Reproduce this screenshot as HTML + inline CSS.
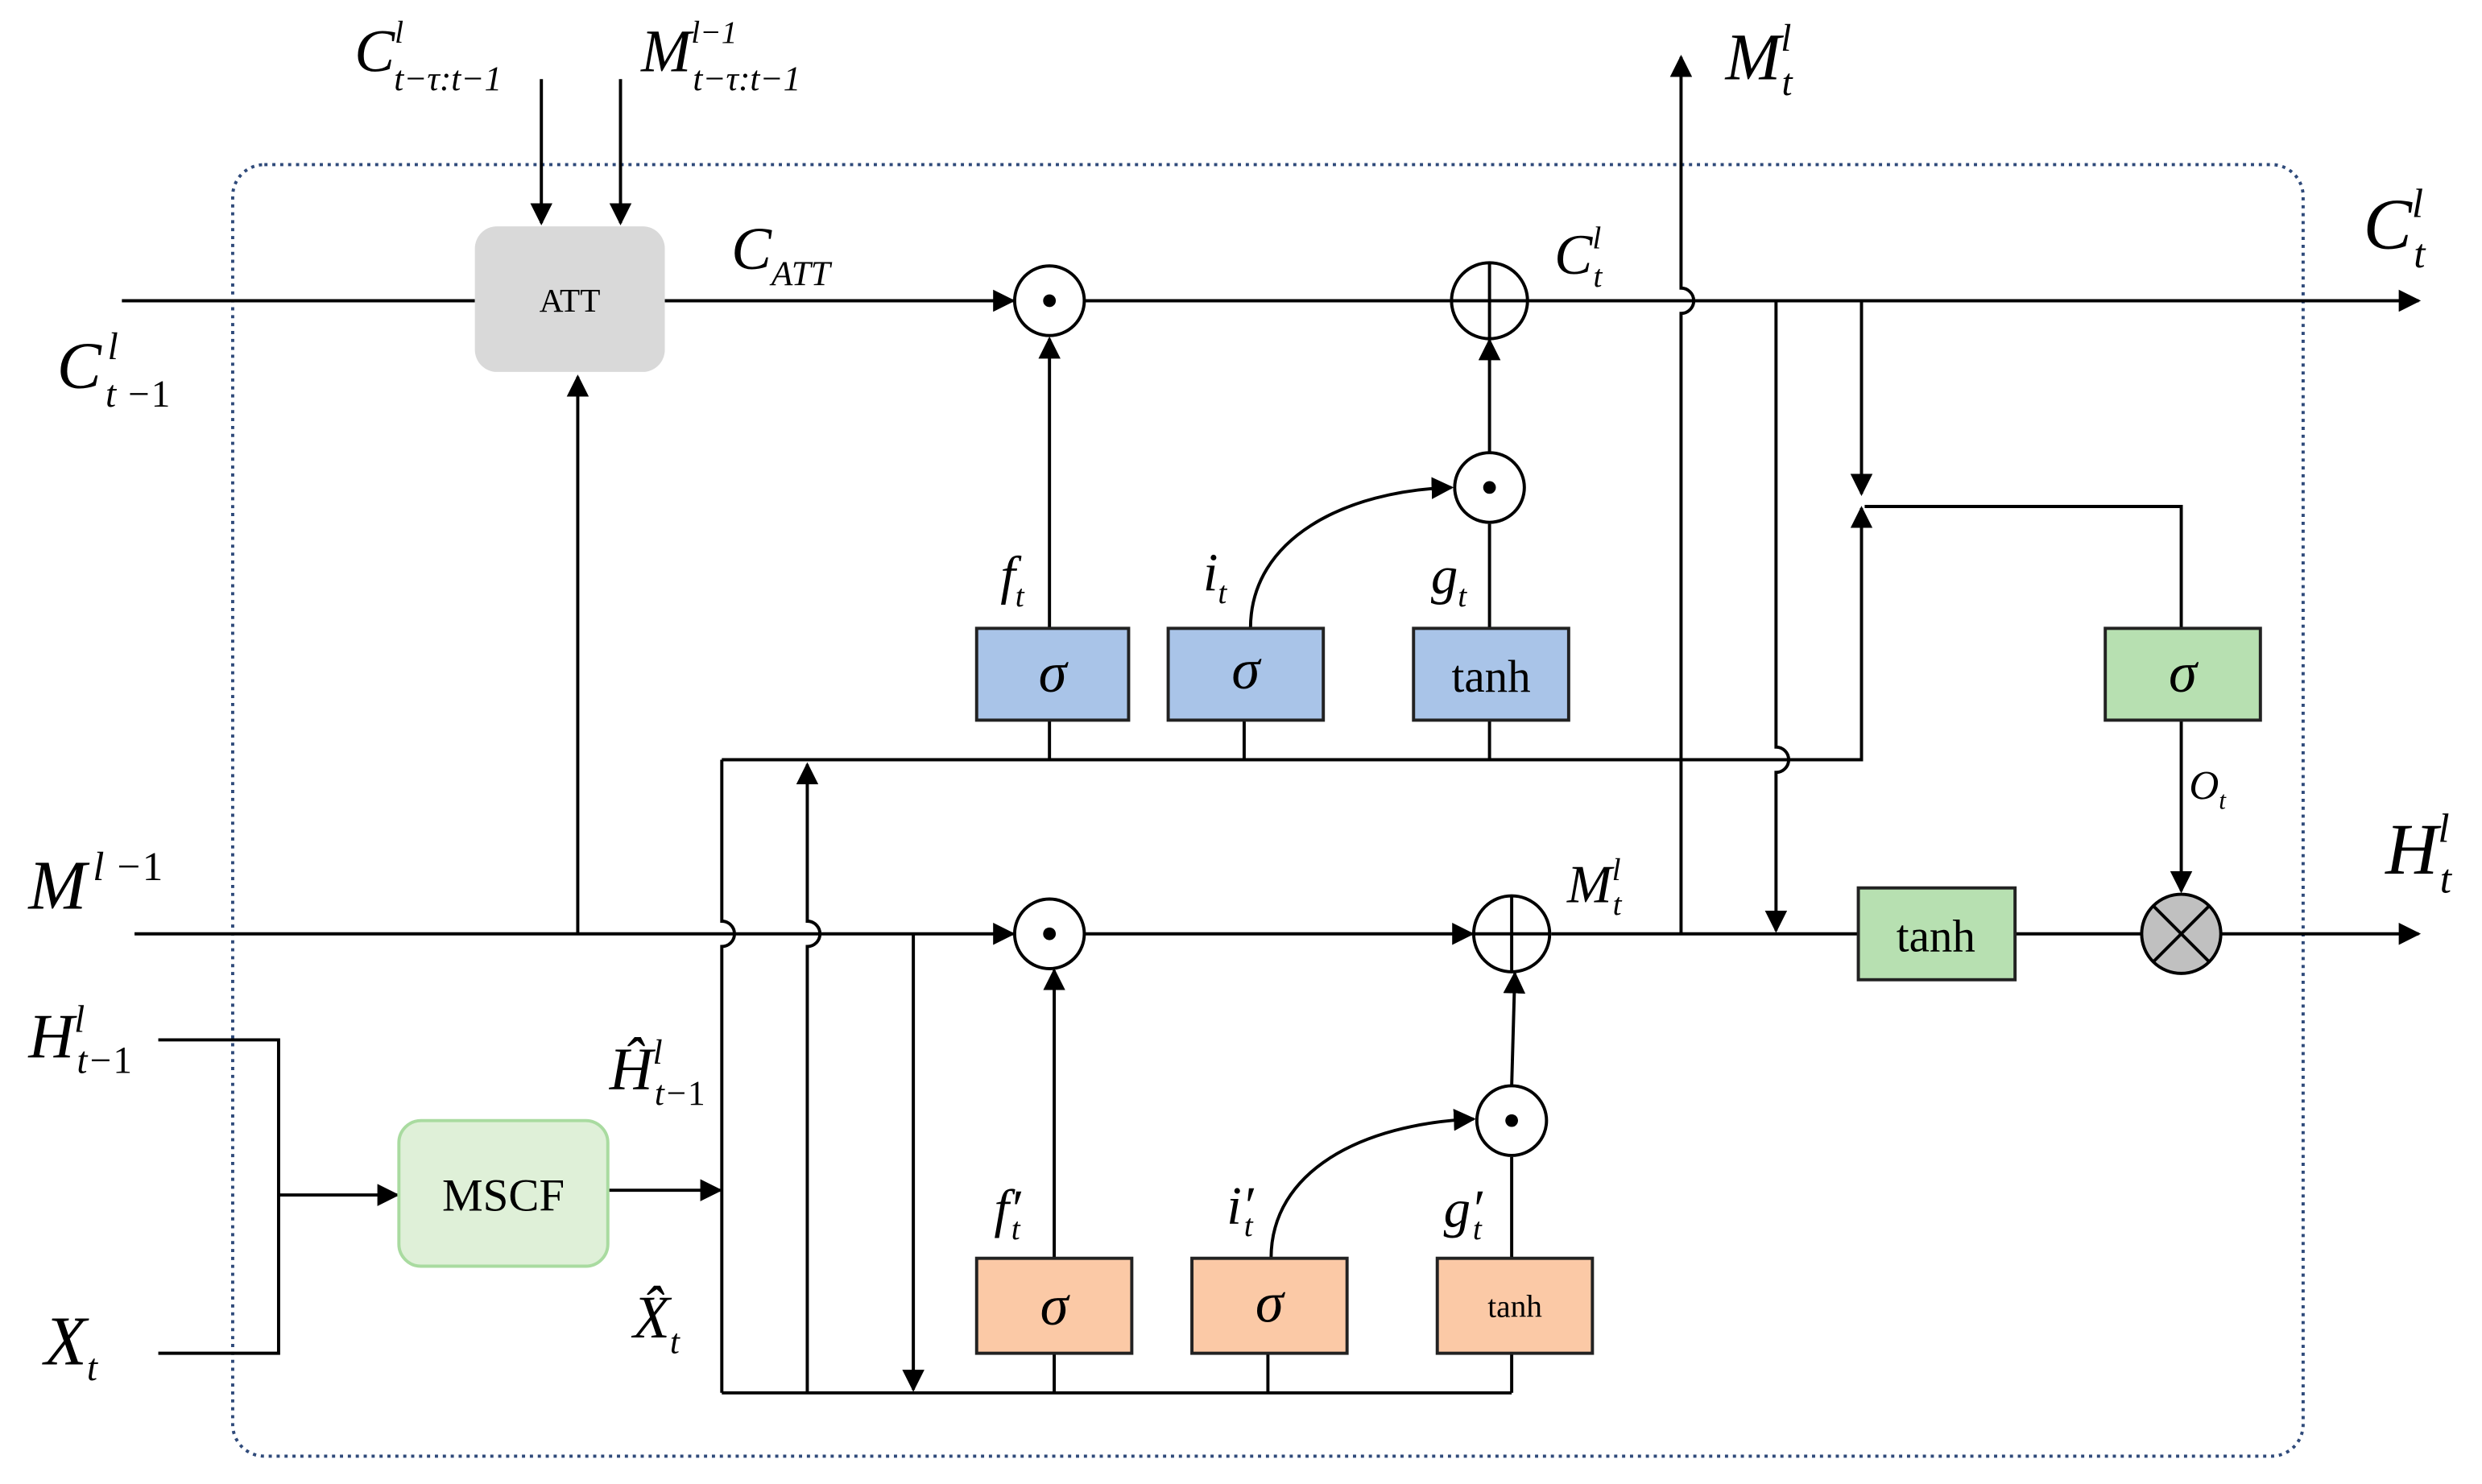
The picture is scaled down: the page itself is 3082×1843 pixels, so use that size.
<!DOCTYPE html>
<html><head><meta charset="utf-8"><style>
html,body{margin:0;padding:0;background:#fff}
svg{display:block}
text{font-family:"Liberation Serif",serif;fill:#000}
.i{font-style:italic}
</style></head><body>
<svg width="3082" height="1843" viewBox="0 0 1568 937.6" preserveAspectRatio="none" xmlns="http://www.w3.org/2000/svg">
<defs>
<marker id="b" viewBox="0 0 10 10" refX="9" refY="5" markerWidth="14" markerHeight="14" orient="auto" markerUnits="userSpaceOnUse"><path d="M0,0 L10,5 L0,10 z" fill="#000"/></marker>
</defs>
<rect x="147" y="104" width="1308" height="816" rx="20" fill="none" stroke="#2f4a7a" stroke-width="2" stroke-dasharray="2,3"/>
<g stroke="#000" stroke-width="2" fill="none">
<line x1="77" y1="190" x2="300" y2="190"/>
<line x1="420" y1="190" x2="640" y2="190" marker-end="url(#b)"/>
<line x1="685" y1="190" x2="917" y2="190"/>
<line x1="965" y1="190" x2="1528" y2="190" marker-end="url(#b)"/>
<line x1="342" y1="50" x2="342" y2="141" marker-end="url(#b)"/>
<line x1="392" y1="50" x2="392" y2="141" marker-end="url(#b)"/>
<line x1="365" y1="590" x2="365" y2="238" marker-end="url(#b)"/>
<path d="M1062,590 V198 A8,8 0 0 0 1062,182 V36" marker-end="url(#b)"/>
<line x1="663" y1="397" x2="663" y2="214" marker-end="url(#b)"/>
<path d="M790,397 C790,340 850,310 917,308" marker-end="url(#b)"/>
<line x1="941" y1="397" x2="941" y2="331"/>
<line x1="941" y1="286" x2="941" y2="215" marker-end="url(#b)"/>
<path d="M456,480 H1176 V321" marker-end="url(#b)"/>
<line x1="663" y1="455" x2="663" y2="480"/>
<line x1="786" y1="455" x2="786" y2="480"/>
<line x1="941" y1="455" x2="941" y2="480"/>
<path d="M1122,190 V472 A8,8 0 0 1 1122,488 V588" marker-end="url(#b)"/>
<line x1="1176" y1="190" x2="1176" y2="312" marker-end="url(#b)"/>
<path d="M1378,397 V320 H1178"/>
<line x1="1378" y1="455" x2="1378" y2="563" marker-end="url(#b)"/>
<line x1="85" y1="590" x2="640" y2="590" marker-end="url(#b)"/>
<line x1="685" y1="590" x2="930" y2="590" marker-end="url(#b)"/>
<line x1="980" y1="590" x2="1174" y2="590"/>
<line x1="1273" y1="590" x2="1353" y2="590"/>
<line x1="1403" y1="590" x2="1528" y2="590" marker-end="url(#b)"/>
<path d="M456,480 V582 A8,8 0 0 1 456,598 V880"/>
<path d="M510,880 V598 A8,8 0 0 0 510,582 V483" marker-end="url(#b)"/>
<line x1="577" y1="590" x2="577" y2="878" marker-end="url(#b)"/>
<line x1="456" y1="880" x2="955" y2="880"/>
<line x1="666" y1="855" x2="666" y2="880"/>
<line x1="801" y1="855" x2="801" y2="880"/>
<line x1="955" y1="855" x2="955" y2="880"/>
<line x1="666" y1="795" x2="666" y2="613" marker-end="url(#b)"/>
<path d="M803,795 C803,740 860,710 931,707" marker-end="url(#b)"/>
<line x1="955" y1="795" x2="955" y2="731"/>
<line x1="955" y1="686" x2="957" y2="615" marker-end="url(#b)"/>
<path d="M100,657 H176 V855 H100"/>
<line x1="176" y1="755" x2="251" y2="755" marker-end="url(#b)"/>
<line x1="384" y1="752" x2="455" y2="752" marker-end="url(#b)"/>
</g>
<rect x="300" y="143" width="120" height="92" rx="14" fill="#d9d9d9"/>
<text x="360" y="197" font-size="21" text-anchor="middle">ATT</text>
<rect x="252" y="708" width="132" height="92" rx="14" fill="#dff0d8" stroke="#a9dba0" stroke-width="2"/>
<text x="318" y="765" font-size="29" text-anchor="middle">MSCF</text>
<g stroke="#222" stroke-width="2">
<rect x="617" y="397" width="96" height="58" fill="#a9c4e8"/>
<rect x="738" y="397" width="98" height="58" fill="#a9c4e8"/>
<rect x="893" y="397" width="98" height="58" fill="#a9c4e8"/>
<rect x="1330" y="397" width="98" height="58" fill="#b7e0b1"/>
<rect x="1174" y="561" width="99" height="58" fill="#b7e0b1"/>
<rect x="617" y="795" width="98" height="60" fill="#fbc9a6"/>
<rect x="753" y="795" width="98" height="60" fill="#fbc9a6"/>
<rect x="908" y="795" width="98" height="60" fill="#fbc9a6"/>
</g>
<g font-size="36" text-anchor="middle" class="i">
<text x="665" y="437">σ</text><text x="787" y="435">σ</text>
<text x="1379" y="437">σ</text><text x="666" y="837">σ</text><text x="802" y="835">σ</text>
</g>
<text x="942" y="437" font-size="29" text-anchor="middle">tanh</text>
<text x="1223" y="601" font-size="29" text-anchor="middle">tanh</text>
<text x="957" y="832" font-size="20" text-anchor="middle">tanh</text>
<g stroke="#000" stroke-width="2" fill="#fff">
<circle cx="663" cy="190" r="22"/><circle cx="941" cy="190" r="24"/>
<circle cx="941" cy="308" r="22"/><circle cx="663" cy="590" r="22"/>
<circle cx="955" cy="590" r="24"/><circle cx="955" cy="708" r="22"/>
<circle cx="1378" cy="590" r="25" fill="#c0c0c0"/>
</g>
<g fill="#000"><circle cx="663" cy="190" r="4"/><circle cx="941" cy="308" r="4"/><circle cx="663" cy="590" r="4"/><circle cx="955" cy="708" r="4"/></g>
<g stroke="#000" stroke-width="2">
<line x1="917" y1="190" x2="965" y2="190"/><line x1="941" y1="166" x2="941" y2="214"/>
<line x1="931" y1="590" x2="979" y2="590"/><line x1="955" y1="566" x2="955" y2="614"/>
<line x1="1360" y1="572" x2="1396" y2="608"/><line x1="1396" y1="572" x2="1360" y2="608"/>
</g>
<g class="i">
<text x="224" y="45" font-size="38">C<tspan font-size="20" dy="-18">l</tspan><tspan font-size="22" dx="-6" dy="30">t−τ:t−1</tspan></text>
<text x="405" y="45" font-size="38">M<tspan font-size="20" dy="-18">l−1</tspan><tspan font-size="22" dx="-28" dy="30">t−τ:t−1</tspan></text>
<text x="462" y="170" font-size="38">C<tspan font-size="22" dy="10">ATT</tspan></text>
<text x="36" y="245" font-size="42">C<tspan font-size="24" dx="4" dy="-18">l</tspan><tspan font-size="24" dx="-8" dy="30">t −<tspan font-style="normal">1</tspan></tspan></text>
<text x="1090" y="50" font-size="42">M<tspan font-size="24" dy="-18">l</tspan><tspan font-size="24" dx="-6" dy="28">t</tspan></text>
<text x="1493" y="157" font-size="46">C<tspan font-size="26" dy="-20">l</tspan><tspan font-size="26" dx="-6" dy="32">t</tspan></text>
<text x="982" y="173" font-size="36">C<tspan font-size="20" dy="-16">l</tspan><tspan font-size="20" dx="-5" dy="24">t</tspan></text>
<text x="632" y="375" font-size="34">f<tspan font-size="20" dy="8">t</tspan></text>
<text x="760" y="373" font-size="34">i<tspan font-size="20" dy="8">t</tspan></text>
<text x="904" y="375" font-size="34">g<tspan font-size="20" dy="8">t</tspan></text>
<text x="1383" y="505" font-size="26">O<tspan font-size="16" dy="6">t</tspan></text>
<text x="1507" y="552" font-size="46">H<tspan font-size="26" dy="-20">l</tspan><tspan font-size="26" dx="-6" dy="32">t</tspan></text>
<text x="18" y="574" font-size="44">M<tspan font-size="26" dx="4" dy="-18">l −<tspan font-style="normal">1</tspan></tspan></text>
<text x="990" y="570" font-size="34">M<tspan font-size="20" dy="-14">l</tspan><tspan font-size="20" dx="-5" dy="22">t</tspan></text>
<text x="18" y="668" font-size="40">H<tspan font-size="24" dy="-16">l</tspan><tspan font-size="24" dx="-5" dy="26">t−<tspan font-style="normal">1</tspan></tspan></text>
<text x="28" y="862" font-size="44">X<tspan font-size="24" dy="10">t</tspan></text>
<text x="385" y="688" font-size="38">Ĥ<tspan font-size="22" dy="-16">l</tspan><tspan font-size="22" dx="-5" dy="26">t−<tspan font-style="normal">1</tspan></tspan></text>
<text x="400" y="845" font-size="38">X̂<tspan font-size="22" dy="10">t</tspan></text>
<text x="628" y="775" font-size="34">f′<tspan font-size="20" dy="8" dx="-6">t</tspan></text>
<text x="775" y="773" font-size="34">i′<tspan font-size="20" dy="8" dx="-6">t</tspan></text>
<text x="912" y="775" font-size="34">g′<tspan font-size="20" dy="8" dx="-6">t</tspan></text>
</g>
</svg>
</body></html>
